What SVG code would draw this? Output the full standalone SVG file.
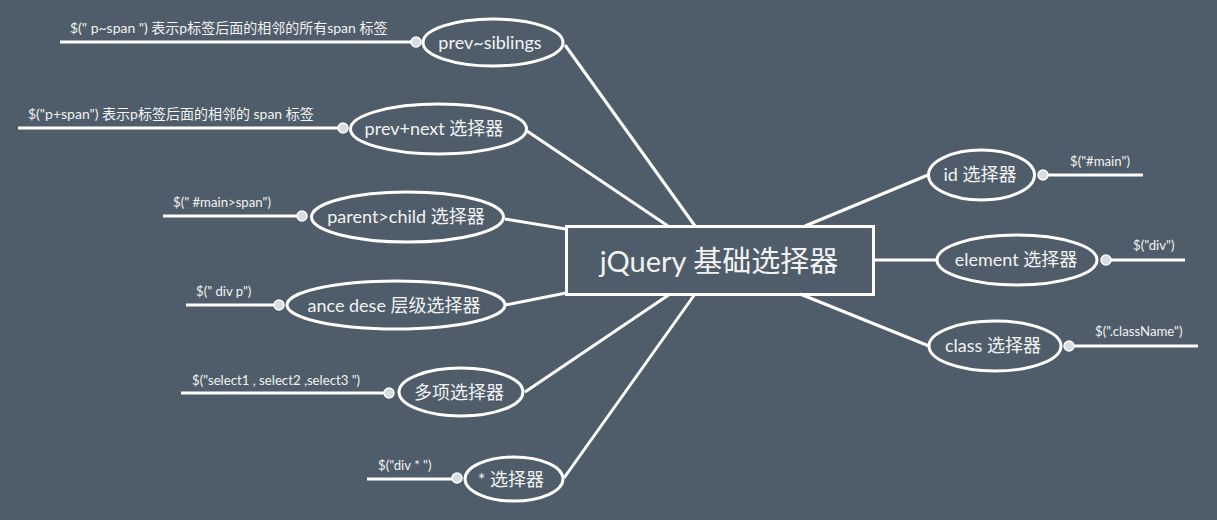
<svg xmlns="http://www.w3.org/2000/svg" width="1217" height="520" viewBox="0 0 1217 520">
<style>
.bg{fill:#4f5d6a}
.n{fill:none;stroke:#ffffff;stroke-width:3}
.e{stroke:#ffffff;stroke-width:3;fill:none}
.dot{fill:#d8dde2;stroke:#ffffff;stroke-width:1.5}
.t{font-family:"Lato","Noto Sans CJK SC",sans-serif;fill:#f2f2f2;text-anchor:middle;dominant-baseline:central;font-size:18px}
.l{font-family:"Lato","Noto Sans CJK SC",sans-serif;fill:#f2f2f2;font-size:13.2px}
.lc{font-size:14px}
</style>
<rect class="bg" x="0" y="0" width="1217" height="520"/>
<g id="connectors">
<line class="e" x1="565" y1="45" x2="695" y2="226"/>
<line class="e" x1="527" y1="131" x2="668" y2="226"/>
<line class="e" x1="505" y1="219" x2="566" y2="229"/>
<line class="e" x1="505" y1="305" x2="566" y2="293"/>
<line class="e" x1="525" y1="392" x2="670" y2="294"/>
<line class="e" x1="564" y1="478" x2="695" y2="294"/>
<line class="e" x1="805" y1="226" x2="928" y2="175"/>
<line class="e" x1="874" y1="260" x2="937" y2="260"/>
<line class="e" x1="800" y1="294" x2="929" y2="346"/>
<line class="e" x1="60" y1="42" x2="416" y2="42"/>
<line class="e" x1="18" y1="128" x2="343" y2="128"/>
<line class="e" x1="163" y1="216" x2="302" y2="216"/>
<line class="e" x1="186" y1="305" x2="279" y2="305"/>
<line class="e" x1="181" y1="393" x2="389" y2="393"/>
<line class="e" x1="367" y1="479" x2="457" y2="479"/>
<line class="e" x1="1043" y1="175" x2="1143" y2="175"/>
<line class="e" x1="1106" y1="260" x2="1185" y2="260"/>
<line class="e" x1="1069" y1="346" x2="1198" y2="346"/>
</g>
<g id="root">
<rect class="n" x="566.5" y="226.5" width="307" height="68"/>
<text class="t" x="719" y="260" font-size="29" style="font-size:29px">jQuery 基础选择器</text>
</g>
<g id="prev-siblings">
<ellipse class="n" cx="493" cy="42.5" rx="70" ry="23.5"/>
<text class="t" x="490" y="42">prev~siblings</text>
<circle class="dot" cx="416" cy="42" r="5"/>
<text class="l lc" x="70" y="33">$(" p~span ") 表示p标签后面的相邻的所有span 标签</text>
</g>
<g id="prev-next">
<ellipse class="n" cx="438.5" cy="129" rx="88" ry="25"/>
<text class="t" x="434" y="128">prev+next 选择器</text>
<circle class="dot" cx="343" cy="128" r="5"/>
<text class="l lc" x="28" y="119">$("p+span")  表示p标签后面的相邻的 span 标签</text>
</g>
<g id="parent-child">
<ellipse class="n" cx="407.5" cy="217" rx="96" ry="25"/>
<text class="t" x="406" y="216">parent&gt;child 选择器</text>
<circle class="dot" cx="302" cy="216" r="5"/>
<text class="l" x="173" y="207">$(" #main&gt;span")</text>
</g>
<g id="ance-dese">
<ellipse class="n" cx="396" cy="305" rx="109" ry="24"/>
<text class="t" x="394" y="305">ance dese 层级选择器</text>
<circle class="dot" cx="279" cy="305" r="5"/>
<text class="l" x="196" y="296">$(" div p")</text>
</g>
<g id="multi">
<ellipse class="n" cx="461" cy="392" rx="62" ry="24"/>
<text class="t" x="459" y="392">多项选择器</text>
<circle class="dot" cx="389" cy="393" r="5"/>
<text class="l" x="192" y="385">$("select1 , select2 ,select3 ")</text>
</g>
<g id="star">
<ellipse class="n" cx="514" cy="479" rx="49" ry="22"/>
<text class="t" x="511" y="479">* 选择器</text>
<circle class="dot" cx="457" cy="478" r="5"/>
<text class="l" x="378" y="470">$("div * ")</text>
</g>
<g id="id-sel">
<ellipse class="n" cx="981.5" cy="175" rx="53" ry="25"/>
<text class="t" x="980" y="174">id 选择器</text>
<circle class="dot" cx="1043" cy="175" r="5"/>
<text class="l" x="1070" y="166">$("#main")</text>
</g>
<g id="element-sel">
<ellipse class="n" cx="1017" cy="260" rx="80" ry="25"/>
<text class="t" x="1016" y="259">element 选择器</text>
<circle class="dot" cx="1106" cy="260" r="5"/>
<text class="l" x="1133" y="250">$("div")</text>
</g>
<g id="class-sel">
<ellipse class="n" cx="995" cy="346" rx="66" ry="25"/>
<text class="t" x="993" y="345">class 选择器</text>
<circle class="dot" cx="1069" cy="346" r="5"/>
<text class="l" x="1095" y="336">$(".className")</text>
</g>
</svg>
